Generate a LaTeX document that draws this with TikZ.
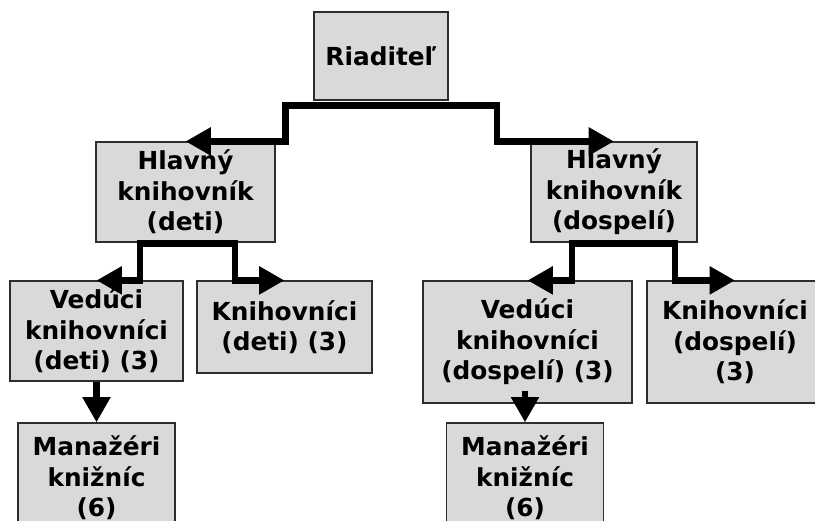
\documentclass[tikz,border=0pt]{standalone}
\usepackage{fontspec}
\setmainfont{DejaVu Sans}
\usetikzlibrary{arrows.meta,calc}
\definecolor{boxgray}{RGB}{217,217,217}
\definecolor{boxline}{RGB}{45,45,45}

\begin{document}
\begin{tikzpicture}[x=0.75pt, y=-0.75pt, >={Triangle[length=19pt,width=20pt]},
    box/.style={draw=boxline, line width=0.9pt, fill=boxgray, align=center, inner sep=0pt,
        font=\fontsize{18.6pt}{22.8pt}\selectfont\bfseries},
    sz/.style 2 args={minimum width=#1*0.75pt, minimum height=#2*0.75pt},
    conn/.style={->, line width=5.2pt}]
    \useasboundingbox (0,0) rectangle (815,521);
    \clip (0,0) rectangle (815,521);
    % Director
    \node[box, sz={134}{88}] (rd) at (381,56) {Riaditeľ};
    % Head librarians
    \node[box, sz={179}{100}] (hd) at (185.5,192) {Hlavný\\knihovník\\(deti)};
    \node[box, sz={166}{100}] (hdo) at (614,192) {Hlavný\\knihovník\\(dospelí)};
    % Children's section
    \node[box, sz={173}{100}] (vd) at (96.5,331) {Vedúci\\knihovníci\\(deti) (3)};
    \node[box, sz={175}{92}] (kd) at (284.5,327) {Knihovníci\\(deti) (3)};
    \node[box, sz={157}{110}] (md) at (96.5,478) {Manažéri\\knižníc\\(6)};
    % Adults' section
    \node[box, sz={209}{122}] (vdo) at (527.5,342) {Vedúci\\knihovníci\\(dospelí) (3)};
    \node[box, sz={176}{122}] (kdo) at (735,342) {Knihovníci\\(dospelí)\\(3)};
    \node[box, sz={157}{110}] (mdo) at (525,478) {Manažéri\\knižníc\\(6)};
    % Director to head librarians
    \draw[conn] ($(rd.south)+(0,5)$) -| ($(hd.north)+(100,0)$) -- (hd.north);
    \draw[conn] ($(rd.south)+(0,5)$) -| ($(hdo.north)+(-117,0)$) -- (hdo.north);
    % Children's branch
    \draw[conn] ($(hd.south)+(0,1)$) -| ($(vd.north)+(43.5,0)$) -- (vd.north);
    \draw[conn] ($(hd.south)+(0,1)$) -| ($(kd.north)+(-49.5,0)$) -- (kd.north);
    % Adults' branch
    \draw[conn] ($(hdo.south)+(0,1)$) -| ($(vdo.north)+(44.5,0)$) -- (vdo.north);
    \draw[conn] ($(hdo.south)+(0,1)$) -| ($(kdo.north)+(-60,0)$) -- (kdo.north);
    % Managers
    \draw[conn] (vd.south) -- (md.north);
    \draw[conn] ($(vdo.south -| mdo.north)+(0,-13)$) -- (mdo.north);
\end{tikzpicture}
\end{document}
